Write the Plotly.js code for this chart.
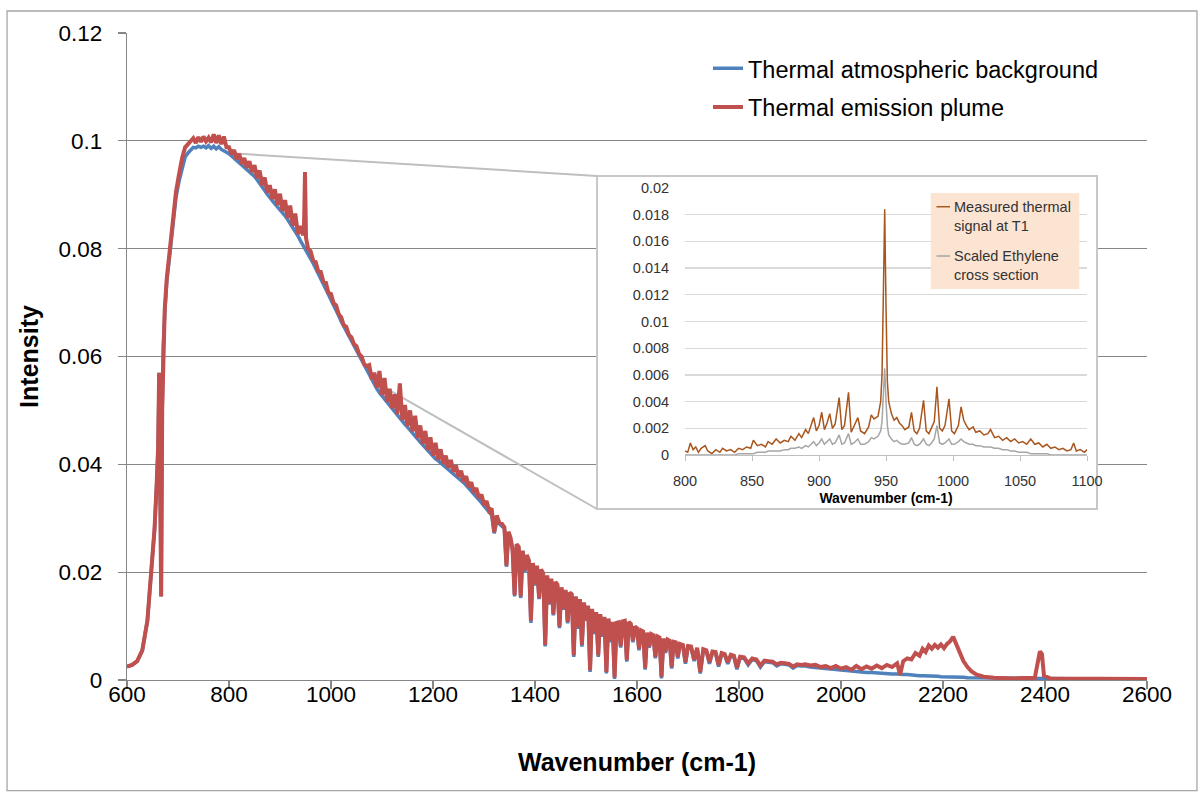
<!DOCTYPE html>
<html>
<head>
<meta charset="utf-8">
<script src="https://cdn.plot.ly/plotly-3.0.1.min.js"></script>
<style>
html,body{margin:0;padding:0;background:#fff;}
#chart{width:1203px;height:796px;}
</style>
</head>
<body>
<div id="chart"></div>
<script>
// ---------- main spectrum (shared wavenumber grid) ----------
const wavenumber = [
600,610,620,630,640,648,654,658,661,663,665,667,669,671,674,678,684,690,696,702,708,714,720,725,730,735,740,745,750,755,760,765,770,775,780,785,790,795,
800,805,810,815,820,825,830,835,840,845,850,855,860,865,870,875,880,885,890,895,900,905,910,915,920,925,930,935,940,945,947,949,951,955,960,965,970,975,980,985,990,995,
1000,1005,1010,1015,1020,1025,1030,1035,1040,1045,1050,1055,1060,1065,1070,1075,1080,1085,1090,1095,1100,1105,1110,1115,1120,1125,1130,1135,1140,1145,1150,1155,1160,1165,1170,1175,1180,1185,1190,1195,
1200,1205,1210,1215,1220,1225,1230,1235,1240,1245,1250,1255,1260,1265,1270,1275,1280,1285,1290,1295,1300,1305,1310,1315,1320,1325,1330,1335,
1340,1344,1348,1352,1356,1360,1364,1368,1372,1376,1380,1384,1388,1392,1396,1400,1404,1408,1412,1416,1420,1424,1428,1432,1436,1440,1444,1448,1452,1456,1460,1464,1468,1472,1476,1480,1484,1488,1492,1496,
1500,1504,1508,1512,1516,1520,1524,1528,1532,1536,1540,1544,1548,1552,1556,1560,1564,1568,1572,1576,1580,1584,1588,1592,1596,1600,1604,1608,1612,1616,1620,1624,1628,1632,1636,1640,1644,1648,1652,1656,1660,1664,1668,1672,1676,1680,1684,1690,1695,
1700,1706,1712,1718,1724,1730,1736,1742,1748,1754,1760,1766,1772,1778,1784,1790,1796,1802,1810,1818,1826,1834,1842,1850,1858,1866,1874,1882,1890,1898,1906,1914,1922,1930,1940,1950,1960,1970,1980,1990,
2000,2010,2020,2030,2040,2050,2060,2070,2080,2090,2100,2110,2116,2122,2130,2138,2146,2154,2160,2166,2172,2178,2184,2190,2196,2202,2208,2214,2220,2226,2232,2240,2248,2256,2266,2280,2300,2340,2380,2386,2390,2394,2398,2410,2500,2600
];

const backgroundIntensity = [
.0025,.0028,.0035,.0055,.0110,.0200,.0280,.0360,.0430,.0570,.0420,.0155,.0500,.0620,.0680,.0740,.0790,.0850,.0895,.0925,.0950,.0970,.0978,.0984,.0988,.0987,.0990,.0988,.0990,.0987,.0991,.0986,.0990,.0985,.0989,.0984,.0982,.0979,
.0976,.0972,.0967,.0963,.0958,.0954,.0950,.0947,.0943,.0939,.0934,.0928,.0922,.0915,.0908,.0901,.0894,.0889,.0883,.0878,.0872,.0867,.0861,.0854,.0847,.0840,.0832,.0824,.0815,.0807,.0804,.0801,.0798,.0791,.0782,.0773,.0763,.0754,.0745,.0735,.0725,.0715,
.0705,.0696,.0686,.0676,.0665,.0656,.0647,.0638,.0629,.0621,.0612,.0603,.0593,.0584,.0574,.0565,.0556,.0548,.0540,.0533,.0527,.0520,.0514,.0508,.0502,.0496,.0491,.0485,.0480,.0474,.0469,.0464,.0459,.0453,.0447,.0441,.0436,.0430,.0425,.0419,
.0414,.0410,.0407,.0403,.0399,.0395,.0392,.0388,.0384,.0379,.0375,.0370,.0366,.0361,.0356,.0351,.0346,.0340,.0335,.0329,.0323,.0317,.0312,.0306,.0272,.0295,.0290,.0285,
.0281,.0210,.0272,.0262,.0240,.0155,.0250,.0245,.0152,.0238,.0200,.0230,.0220,.0106,.0215,.0175,.0210,.0150,.0203,.0196,.0062,.0192,.0140,.0186,.0120,.0180,.0175,.0096,.0170,.0130,.0165,.0105,.0160,.0157,.0043,.0153,.0095,.0148,.0062,.0142,
.0110,.0136,.0015,.0130,.0085,.0124,.0043,.0120,.0080,.0115,.0012,.0112,.0070,.0106,.0002,.0104,.0105,.0060,.0107,.0108,.0034,.0106,.0102,.0070,.0097,.0094,.0055,.0090,.0088,.0019,.0086,.0060,.0083,.0081,.0040,.0079,.0077,.0003,.0075,.0050,.0073,.0071,.0021,.0069,.0068,.0040,.0065,.0063,.0030,
.0061,.0060,.0035,.0058,.0012,.0055,.0053,.0030,.0051,.0050,.0025,.0048,.0046,.0030,.0045,.0043,.0020,.0041,.0040,.0028,.0038,.0036,.0024,.0034,.0033,.0032,.0026,.0030,.0029,.0028,.0022,.0027,.0026,.0026,.0024,.0023,.0022,.0021,.0020,.0019,
.0018,.0017,.0016,.0016,.0015,.0014,.0014,.0013,.0012,.0012,.0011,.0011,.0010,.0010,.0010,.0009,.0009,.0008,.0008,.0008,.0007,.0007,.0007,.0007,.0006,.0006,.0006,.0006,.0005,.0005,.0005,.0005,.0004,.0004,.0004,.0004,.0003,.0003,.0003,.0003,.0003,.0003,.0003,.0003,.0002,.0002
];

const plumeIntensity = [
.0025,.0028,.0035,.0055,.0110,.0200,.0280,.0360,.0430,.0570,.0420,.0155,.0500,.0620,.0688,.0745,.0800,.0860,.0905,.0938,.0968,.0988,.0995,.0998,.1005,.0996,.1007,.0998,.1008,.0999,.1006,.0997,.1012,.0996,.1010,.0994,.1008,.0988,
.0988,.0975,.0983,.0966,.0976,.0957,.0968,.0950,.0962,.0942,.0955,.0931,.0945,.0918,.0932,.0904,.0918,.0892,.0910,.0881,.0902,.0870,.0890,.0857,.0880,.0843,.0865,.0827,.0842,.0825,.0835,.0942,.0820,.0800,.0795,.0778,.0775,.0758,.0757,.0739,.0737,.0718,
.0716,.0699,.0695,.0679,.0673,.0658,.0655,.0640,.0636,.0623,.0619,.0605,.0600,.0586,.0582,.0584,.0558,.0570,.0542,.0573,.0529,.0560,.0516,.0540,.0504,.0530,.0493,.0550,.0482,.0510,.0471,.0500,.0461,.0490,.0449,.0472,.0438,.0462,.0427,.0450,
.0416,.0440,.0409,.0428,.0401,.0416,.0394,.0408,.0386,.0398,.0377,.0388,.0368,.0378,.0358,.0367,.0348,.0356,.0337,.0344,.0325,.0332,.0314,.0318,.0274,.0305,.0292,.0290,
.0283,.0212,.0275,.0264,.0242,.0158,.0252,.0247,.0155,.0240,.0203,.0232,.0222,.0110,.0217,.0178,.0212,.0152,.0205,.0198,.0065,.0194,.0142,.0188,.0122,.0182,.0177,.0099,.0172,.0132,.0167,.0108,.0162,.0159,.0046,.0155,.0098,.0150,.0065,.0144,
.0112,.0138,.0018,.0132,.0088,.0126,.0046,.0122,.0083,.0117,.0015,.0114,.0073,.0108,.0005,.0106,.0107,.0063,.0109,.0110,.0037,.0108,.0104,.0073,.0099,.0096,.0058,.0092,.0090,.0022,.0088,.0062,.0085,.0083,.0043,.0081,.0079,.0006,.0077,.0053,.0075,.0073,.0024,.0071,.0070,.0043,.0067,.0065,.0033,
.0063,.0062,.0038,.0060,.0015,.0057,.0055,.0033,.0053,.0052,.0028,.0050,.0048,.0033,.0047,.0045,.0023,.0043,.0042,.0031,.0040,.0038,.0027,.0036,.0035,.0034,.0029,.0032,.0031,.0030,.0025,.0029,.0028,.0029,.0027,.0028,.0024,.0026,.0022,.0026,
.0021,.0024,.0019,.0026,.0020,.0025,.0021,.0027,.0022,.0028,.0024,.0031,.0010,.0035,.0040,.0038,.0050,.0045,.0058,.0052,.0064,.0058,.0065,.0060,.0066,.0059,.0067,.0072,.0080,.0066,.0050,.0035,.0024,.0016,.0010,.0006,.0004,.0003,.0004,.0030,.0053,.0048,.0008,.0003,.0002,.0002
];

// ---------- inset (800-1100 cm-1) ----------
const insetWavenumber = [
800,802,804,806,808,810,812,815,817,820,823,826,828,831,834,837,840,843,846,849,851,854,857,860,862,865,868,871,874,877,879,882,885,887,890,892,894,896,898,
900,902,904,906,908,910,912,915,917,919,922,924,926,929,931,934,937,939,941,944,946,947,948,949,950,951,952,954,956,958,960,962,964,967,969,971,973,975,978,980,982,984,986,988,990,992,994,997,999,
1001,1004,1006,1008,1010,1012,1015,1017,1020,1023,1026,1028,1031,1034,1037,1040,1043,1046,1049,1052,1055,1058,1061,1064,1067,1070,1073,1076,1079,1082,1085,1088,1090,1092,1095,1098,1100
];
const measuredSignal = [
.0003,.0002,.0009,.0004,.0006,.0002,.0005,.0007,.0003,.0001,.0004,.0002,.0005,.0003,.0004,.0002,.0005,.0004,.0006,.0005,.0011,.0007,.0008,.0006,.0010,.0008,.0012,.0009,.0011,.0010,.0014,.0011,.0016,.0013,.0019,.0016,.0022,.0028,.0018,
.0022,.0032,.0019,.0024,.0031,.0020,.0023,.0043,.0019,.0022,.0047,.0017,.0021,.0028,.0018,.0016,.0021,.0030,.0027,.0029,.0040,.0060,.0120,.0184,.0110,.0055,.0040,.0031,.0026,.0028,.0024,.0022,.0019,.0021,.0032,.0018,.0016,.0020,.0041,.0018,.0016,.0020,.0025,.0051,.0020,.0018,.0022,.0042,.0018,
.0016,.0022,.0036,.0026,.0022,.0019,.0021,.0017,.0018,.0015,.0016,.0019,.0013,.0014,.0011,.0013,.0010,.0012,.0009,.0010,.0008,.0012,.0008,.0009,.0006,.0008,.0005,.0006,.0004,.0005,.0003,.0004,.0009,.0003,.0004,.0002,.0004
];
const ethyleneScaled = [
0,0,0,0,0,0,0,0,0,0,0,0,0,0,0,0,.0001,.0001,.0001,.0001,.0001,.0002,.0002,.0002,.0003,.0003,.0003,.0003,.0004,.0004,.0005,.0005,.0006,.0005,.0007,.0006,.0008,.0010,.0007,
.0009,.0012,.0008,.0010,.0012,.0008,.0009,.0015,.0008,.0009,.0016,.0008,.0009,.0012,.0008,.0008,.0010,.0013,.0012,.0014,.0018,.0025,.0045,.0065,.0040,.0022,.0015,.0012,.0010,.0011,.0009,.0008,.0008,.0009,.0013,.0008,.0007,.0008,.0012,.0008,.0007,.0009,.0012,.0022,.0009,.0008,.0009,.0012,.0008,
.0008,.0010,.0012,.0010,.0009,.0008,.0008,.0007,.0007,.0006,.0006,.0006,.0005,.0005,.0004,.0004,.0003,.0003,.0002,.0002,.0002,.0001,.0001,.0001,.0001,.0001,0,0,0,0,0,0,0,0,0,0,0
];

// ---------- labels ----------
const seriesNames = ['Thermal atmospheric background', 'Thermal emission plume'];
const insetNames = ['Measured thermal<br>signal at T1', 'Scaled Ethylene<br>cross section'];
const axisTitles = {x: 'Wavenumber (cm-1)', y: 'Intensity', inset: 'Wavenumber (cm-1)'};

// ---------- layout helpers ----------
const FONT = '"Liberation Sans", Arial, sans-serif';
const boxPaper = {x0: 0.4608, x1: 0.951, y0: 0.2643, y1: 0.779};   // inset frame (paper)
const xr = [600, 2600], yr = [0, 0.12];
const px2x = p => xr[0] + p * (xr[1] - xr[0]);
const py2y = p => yr[0] + p * (yr[1] - yr[0]);
const zoomFrom = [{x: 805, y: 0.0977}, {x: 1080, y: 0.0556}];

const traces = [
  {x: wavenumber, y: backgroundIntensity, name: seriesNames[0], type: 'scatter', mode: 'lines',
   line: {color: '#4F81BD', width: 3.5}, xaxis: 'x', yaxis: 'y', legendgroup: 'a'},
  {x: wavenumber, y: plumeIntensity, name: seriesNames[1], type: 'scatter', mode: 'lines',
   line: {color: '#C0504D', width: 4}, xaxis: 'x', yaxis: 'y', legendgroup: 'b'},
  {x: insetWavenumber, y: measuredSignal, name: insetNames[0], type: 'scatter', mode: 'lines',
   line: {color: '#A8561E', width: 1.5}, xaxis: 'x2', yaxis: 'y2', showlegend: false},
  {x: insetWavenumber, y: ethyleneScaled, name: insetNames[1], type: 'scatter', mode: 'lines',
   line: {color: '#A6A6A6', width: 1.5}, xaxis: 'x2', yaxis: 'y2', showlegend: false}
];

const shapes = [
  {type: 'rect', xref: 'paper', yref: 'paper', x0: -0.1176, x1: 1.049, y0: -0.171, y1: 1.034,
   line: {color: '#A6A6A6', width: 1.3}, fillcolor: 'rgba(0,0,0,0)', layer: 'below'},
  {type: 'rect', xref: 'x', yref: 'y', x0: px2x(boxPaper.x0), x1: px2x(boxPaper.x1),
   y0: py2y(boxPaper.y0), y1: py2y(boxPaper.y1),
   line: {color: '#C8C8C8', width: 2}, fillcolor: '#FFFFFF', layer: 'between'},
  {type: 'line', xref: 'x', yref: 'y', x0: zoomFrom[0].x, y0: zoomFrom[0].y,
   x1: px2x(boxPaper.x0), y1: py2y(boxPaper.y1), line: {color: '#BFBFBF', width: 2}, layer: 'between'},
  {type: 'line', xref: 'x', yref: 'y', x0: zoomFrom[1].x, y0: zoomFrom[1].y,
   x1: px2x(boxPaper.x0), y1: py2y(boxPaper.y0), line: {color: '#BFBFBF', width: 2}, layer: 'between'},
  {type: 'rect', xref: 'paper', yref: 'paper', x0: 0.788, x1: 0.9336, y0: 0.6043, y1: 0.7527,
   line: {width: 0}, fillcolor: '#FCE4D2', layer: 'above'},
  {type: 'line', xref: 'paper', yref: 'paper', x0: 0.7936, x1: 0.8069, y0: 0.7315, y1: 0.7315,
   line: {color: '#A8561E', width: 1.5}, layer: 'above'},
  {type: 'line', xref: 'paper', yref: 'paper', x0: 0.7936, x1: 0.8069, y0: 0.6553, y1: 0.6553,
   line: {color: '#A6A6A6', width: 1.5}, layer: 'above'}
];

const annotations = [
  {xref: 'paper', yref: 'paper', x: 0.8088, y: 0.7164, xanchor: 'left', yanchor: 'middle', align: 'left',
   text: insetNames[0], showarrow: false, font: {family: FONT, size: 14.5, color: '#333333'}},
  {xref: 'paper', yref: 'paper', x: 0.8088, y: 0.6399, xanchor: 'left', yanchor: 'middle', align: 'left',
   text: insetNames[1], showarrow: false, font: {family: FONT, size: 14.5, color: '#333333'}}
];

const layout = {
  width: 1203, height: 796,
  margin: {l: 127, r: 56, t: 33, b: 116},
  paper_bgcolor: '#FFFFFF', plot_bgcolor: '#FFFFFF',
  font: {family: FONT, color: '#000000'},
  showlegend: true,
  legend: {x: 0.5696, y: 0.979, xanchor: 'left', yanchor: 'top', bgcolor: 'rgba(0,0,0,0)',
           font: {family: FONT, size: 23.5, color: '#000000'}, traceorder: 'grouped', tracegroupgap: 5},
  xaxis: {domain: [0, 1], range: xr, dtick: 200, tick0: 600, showgrid: false, zeroline: false,
          showline: true, linecolor: '#868686', linewidth: 1.3, ticks: 'outside', ticklen: 8,
          tickcolor: '#868686', tickwidth: 1.3, tickfont: {size: 22.5, family: FONT, color: '#000'},
          ticklabelstandoff: -14,
          title: {text: axisTitles.x, font: {size: 25, family: FONT, color: '#000', weight: 'bold'}, standoff: 47},
          anchor: 'y', fixedrange: true},
  yaxis: {domain: [0, 1], range: yr, dtick: 0.02, tick0: 0, showgrid: true, gridcolor: '#868686', gridwidth: 1.3,
          zeroline: false, showline: true, linecolor: '#868686', linewidth: 1.3, ticks: 'outside', ticklen: 8,
          tickcolor: '#868686', tickwidth: 1.3, tickfont: {size: 22.5, family: FONT, color: '#000'},
          ticklabelstandoff: 11,
          title: {text: axisTitles.y, font: {size: 25, family: FONT, color: '#000', weight: 'bold'}, standoff: 12},
          anchor: 'x', fixedrange: true},
  xaxis2: {domain: [0.5471, 0.9412], range: [800, 1100], dtick: 50, tick0: 800, anchor: 'y2',
           showgrid: false, zeroline: false, showline: true, linecolor: '#BFBFBF', linewidth: 1.3,
           ticks: 'outside', ticklen: 5, tickcolor: '#BFBFBF', tickfont: {size: 14.5, family: FONT, color: '#333333'},
           ticklabelstandoff: 7,
           title: {text: axisTitles.inset, font: {size: 14, family: FONT, color: '#000', weight: 'bold'}, standoff: 5},
           fixedrange: true},
  yaxis2: {domain: [0.3478, 0.7604], range: [0, 0.02], dtick: 0.002, tick0: 0, anchor: 'x2',
           showgrid: true, gridcolor: '#D9D9D9', gridwidth: 1.3, zeroline: false, showline: false,
           ticks: 'outside', ticklen: 12, tickcolor: 'rgba(0,0,0,0)', tickfont: {size: 14.5, family: FONT, color: '#333333'},
           fixedrange: true},
  shapes: shapes,
  annotations: annotations
};

Plotly.newPlot('chart', traces, layout, {staticPlot: true, displayModeBar: false});
</script>
</body>
</html>
